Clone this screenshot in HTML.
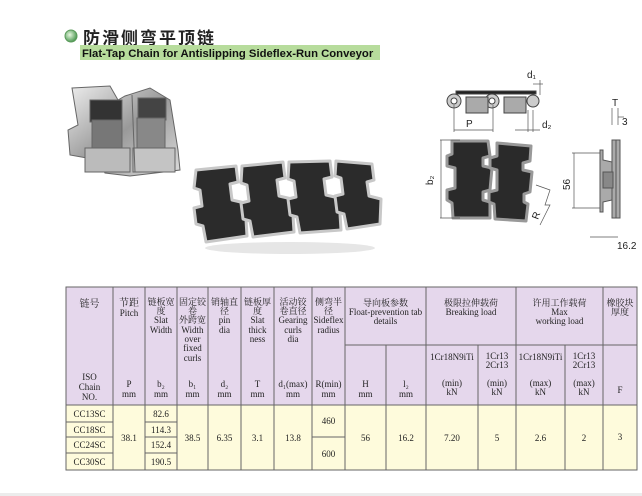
<!DOCTYPE html>
<html><head><meta charset="utf-8">
<style>
html,body{margin:0;padding:0;background:#fff;}
svg{display:block;}
.s{font-family:"Liberation Serif","Noto Serif CJK SC",serif;font-size:9px;fill:#222;text-anchor:middle;}
.b{font-family:"Liberation Serif","Noto Serif CJK SC",serif;font-size:10px;fill:#222;text-anchor:middle;}
.d{font-family:"Liberation Sans",sans-serif;font-size:10px;fill:#222;}
</style></head>
<body>
<svg width="642" height="496" viewBox="0 0 642 496" xmlns="http://www.w3.org/2000/svg">
<defs>
<radialGradient id="g1" cx="40%" cy="40%" r="60%"><stop offset="0" stop-color="#e8f8e0"/><stop offset="1" stop-color="#4f9a55"/></radialGradient>
<linearGradient id="met" x1="0" y1="0" x2="1" y2="1"><stop offset="0" stop-color="#eee"/><stop offset=".5" stop-color="#999"/><stop offset="1" stop-color="#ddd"/></linearGradient>
</defs>
<rect x="0" y="493" width="642" height="3" fill="#ececec"/>
<!-- title -->
<circle cx="71" cy="36" r="6" fill="url(#g1)" stroke="#5a9a5a" stroke-width="1"/>
<text x="83" y="44" font-family="'Noto Sans CJK SC',sans-serif" font-weight="bold" font-size="17" fill="#222" letter-spacing="2">防滑侧弯平顶链</text>
<rect x="80" y="45" width="300" height="15" fill="#b7dc9c"/>
<text x="82" y="57" font-family="'Liberation Sans',sans-serif" font-weight="bold" font-size="11.3" fill="#111">Flat-Tap Chain for Antislipping Sideflex-Run Conveyor</text>

<!-- left metal chain -->
<g stroke="#666" stroke-width="1">
<polygon points="72,88 110,86 118,100 125,96 150,88 170,100 178,150 180,170 130,176 105,173 98,160 70,155 68,130 78,125" fill="url(#met)"/>
<rect x="90" y="100" width="32" height="22" fill="#333"/>
<rect x="138" y="98" width="28" height="22" fill="#444"/>
<rect x="92" y="120" width="30" height="28" fill="#777"/>
<rect x="137" y="118" width="28" height="30" fill="#888"/>
<rect x="85" y="148" width="45" height="24" fill="#bbb"/>
<rect x="133" y="148" width="42" height="24" fill="#c4c4c4"/>
<line x1="132" y1="95" x2="135" y2="172"/>
</g>
<!-- dark chain -->
<ellipse cx="290" cy="248" rx="85" ry="6" fill="#e6e6e6"/>
<g stroke="#c8c8c8" stroke-width="3" fill="#2b2b2b" stroke-linejoin="round">
<polygon points="196,170 236,166 238,182 230,184 232,200 245,203 247,236 206,242 203,226 196,224 194,208 202,206 200,190 194,188"/>
<polygon points="242,166 283,162 285,178 277,180 279,196 292,199 294,232 253,237 250,221 243,219 241,203 249,201 247,185 241,183"/>
<polygon points="289,162 330,161 332,177 324,179 326,195 339,198 341,230 300,233 297,217 290,215 288,199 296,197 294,181 288,179"/>
<polygon points="336,161 372,164 374,180 367,182 369,196 381,199 380,224 347,229 344,214 337,212 335,196 343,194 341,178 335,176"/>
</g>

<!-- top view drawing -->
<g stroke="#444" fill="#bbb" stroke-width="1">
<rect x="456" y="91" width="80" height="3" fill="#222"/>
<circle cx="454" cy="101" r="7" fill="#ccc"/><circle cx="492" cy="101" r="7" fill="#ccc"/><circle cx="533" cy="101" r="6" fill="#ccc"/><circle cx="454" cy="101" r="3" fill="#fff"/><circle cx="492" cy="101" r="3" fill="#fff"/>
<rect x="466" y="97" width="22" height="16" fill="#aaa"/>
<rect x="504" y="97" width="22" height="16" fill="#aaa"/>
</g>
<g stroke="#555" stroke-width=".7" fill="none">
<line x1="454" y1="105" x2="454" y2="132"/><line x1="493" y1="105" x2="493" y2="132"/><line x1="454" y1="130" x2="493" y2="130"/>
<line x1="528" y1="110" x2="528" y2="132"/><line x1="533" y1="110" x2="533" y2="132"/><line x1="515" y1="130" x2="540" y2="130"/>
<line x1="533" y1="84" x2="543" y2="84"/><line x1="540" y1="80" x2="540" y2="95"/>
</g>
<text x="466" y="127" class="d" font-size="11">P</text>
<text x="542" y="128" class="d" font-size="11">d₂</text>
<text x="527" y="78" class="d" font-size="11">d₁</text>
<!-- plan view -->
<g stroke="#999" stroke-width="3" fill="#2a2a2a" stroke-linejoin="round">
<polygon points="452,141 488,141 490,156 483,158 483,166 492,168 490,190 483,192 483,200 490,202 490,218 453,218 452,203 447,200 447,190 455,188 455,168 447,166 447,156 452,154"/>
<polygon points="497,143 531,146 530,161 523,163 523,170 532,172 530,192 524,194 524,202 528,204 526,221 495,219 494,204 489,202 489,192 497,190 497,170 490,168 490,158 497,156"/>
</g>
<g stroke="#555" stroke-width=".7" fill="none">
<line x1="440" y1="140" x2="460" y2="140"/><line x1="440" y1="218" x2="460" y2="218"/><line x1="441" y1="140" x2="441" y2="218"/>
<polyline points="536,185 550,190 545,205 550,205 540,225"/>
<line x1="574" y1="153" x2="574" y2="208"/><line x1="572" y1="153" x2="600" y2="153"/><line x1="572" y1="208" x2="600" y2="208"/>
<line x1="590" y1="237" x2="618" y2="237"/><line x1="612" y1="108" x2="612" y2="125"/><line x1="618" y1="108" x2="618" y2="125"/><line x1="618" y1="117" x2="624" y2="117"/>
</g>
<text x="433" y="185" class="d" font-size="11" transform="rotate(-90 433 185)">b₂</text>
<text x="538" y="220" class="d" font-size="11" transform="rotate(-70 538 220)">R</text>
<text x="570" y="190" class="d" font-size="11" transform="rotate(-90 570 190)">56</text>
<text x="612" y="106" class="d" font-size="11">T</text>
<text x="622" y="125" class="d" font-size="11">3</text>
<text x="617" y="249" class="d" font-size="11">16.2</text>
<!-- side view -->
<g stroke="#555" stroke-width="1" fill="#aaa">
<rect x="616" y="140" width="4" height="78"/>
<polygon points="612,140 616,140 616,218 612,218"/>
<polygon points="600,150 603,150 603,160 612,162 612,200 603,202 603,212 600,212"/>
<rect x="603" y="172" width="10" height="16" fill="#888"/>
</g>

<!-- table -->
<rect x="66" y="287" width="571" height="118" fill="#e5d7ec"/>
<rect x="66" y="405" width="571" height="65" fill="#fefbdc"/>
<g stroke="#666" stroke-width="1" fill="none">
<rect x="66" y="287" width="571" height="183"/>
<line x1="66" y1="405" x2="637" y2="405"/>
<line x1="345" y1="345" x2="637" y2="345"/>
<line x1="113" y1="287" x2="113" y2="470"/><line x1="145" y1="287" x2="145" y2="470"/><line x1="177" y1="287" x2="177" y2="470"/>
<line x1="208" y1="287" x2="208" y2="470"/><line x1="241" y1="287" x2="241" y2="470"/><line x1="274" y1="287" x2="274" y2="470"/>
<line x1="312" y1="287" x2="312" y2="470"/><line x1="345" y1="287" x2="345" y2="470"/><line x1="386" y1="345" x2="386" y2="470"/>
<line x1="426" y1="287" x2="426" y2="470"/><line x1="478" y1="345" x2="478" y2="470"/><line x1="516" y1="287" x2="516" y2="470"/>
<line x1="565" y1="345" x2="565" y2="470"/><line x1="603" y1="287" x2="603" y2="470"/>
<line x1="66" y1="422" x2="113" y2="422"/><line x1="66" y1="437" x2="113" y2="437"/><line x1="66" y1="453" x2="113" y2="453"/>
<line x1="145" y1="422" x2="177" y2="422"/><line x1="145" y1="437" x2="177" y2="437"/><line x1="145" y1="453" x2="177" y2="453"/>
<line x1="312" y1="437" x2="345" y2="437"/>
</g>
<!-- header text -->
<text class="b" x="89.5" y="307">链号</text>
<text class="s" x="89.5" y="380">ISO</text><text class="s" x="89.5" y="390">Chain</text><text class="s" x="89.5" y="400">NO.</text>
<text class="b" x="129" y="306">节距</text><text class="s" x="129" y="316">Pitch</text><text class="s" x="129" y="387">P</text><text class="s" x="129" y="397">mm</text>
<text class="s" x="161" y="305">链板宽</text><text class="s" x="161" y="314">度</text><text class="s" x="161" y="323">Slat</text><text class="s" x="161" y="333">Width</text><text class="s" x="161" y="387">b₂</text><text class="s" x="161" y="397">mm</text>
<text class="s" x="192.5" y="305">固定铰</text><text class="s" x="192.5" y="314">卷</text><text class="s" x="192.5" y="323">外跨宽</text><text class="s" x="192.5" y="333">Width</text><text class="s" x="192.5" y="342">over</text><text class="s" x="192.5" y="351">fixed</text><text class="s" x="192.5" y="361">curls</text><text class="s" x="192.5" y="387">b₁</text><text class="s" x="192.5" y="397">mm</text>
<text class="s" x="224.5" y="305">销轴直</text><text class="s" x="224.5" y="314">径</text><text class="s" x="224.5" y="323">pin</text><text class="s" x="224.5" y="333">dia</text><text class="s" x="224.5" y="387">d₂</text><text class="s" x="224.5" y="397">mm</text>
<text class="s" x="257.5" y="305">链板厚</text><text class="s" x="257.5" y="314">度</text><text class="s" x="257.5" y="323">Slat</text><text class="s" x="257.5" y="333">thick</text><text class="s" x="257.5" y="342">ness</text><text class="s" x="257.5" y="387">T</text><text class="s" x="257.5" y="397">mm</text>
<text class="s" x="293" y="305">活动铰</text><text class="s" x="293" y="314">卷直径</text><text class="s" x="293" y="323">Gearing</text><text class="s" x="293" y="333">curls</text><text class="s" x="293" y="342">dia</text><text class="s" x="293" y="387">d₁(max)</text><text class="s" x="293" y="397">mm</text>
<text class="s" x="328.5" y="305">侧弯半</text><text class="s" x="328.5" y="314">径</text><text class="s" x="328.5" y="323">Sideflex</text><text class="s" x="328.5" y="333">radius</text><text class="s" x="328.5" y="387">R(min)</text><text class="s" x="328.5" y="397">mm</text>
<text class="s" x="385.5" y="306">导向板参数</text><text class="s" x="385.5" y="315">Float-prevention tab</text><text class="s" x="385.5" y="324">details</text>
<text class="s" x="471" y="306">极限拉伸载荷</text><text class="s" x="471" y="315">Breaking load</text>
<text class="s" x="559.5" y="306">许用工作载荷</text><text class="s" x="559.5" y="315">Max</text><text class="s" x="559.5" y="324">working load</text>
<text class="s" x="620" y="306">橡胶块</text><text class="s" x="620" y="315">厚度</text>
<text class="s" x="365.5" y="387">H</text><text class="s" x="365.5" y="397">mm</text>
<text class="s" x="406" y="387">l₂</text><text class="s" x="406" y="397">mm</text>
<text class="s" x="452" y="360">1Cr18N9iTi</text><text class="s" x="452" y="386">(min)</text><text class="s" x="452" y="395">kN</text>
<text class="s" x="497" y="359">1Cr13</text><text class="s" x="497" y="368">2Cr13</text><text class="s" x="497" y="386">(min)</text><text class="s" x="497" y="395">kN</text>
<text class="s" x="540.5" y="360">1Cr18N9iTi</text><text class="s" x="540.5" y="386">(max)</text><text class="s" x="540.5" y="395">kN</text>
<text class="s" x="584" y="359">1Cr13</text><text class="s" x="584" y="368">2Cr13</text><text class="s" x="584" y="386">(max)</text><text class="s" x="584" y="395">kN</text>
<text class="s" x="620" y="393">F</text>
<!-- body -->
<text class="s" x="89.5" y="417">CC13SC</text><text class="s" x="89.5" y="433">CC18SC</text><text class="s" x="89.5" y="448">CC24SC</text><text class="s" x="89.5" y="465">CC30SC</text>
<text class="s" x="161" y="417">82.6</text><text class="s" x="161" y="433">114.3</text><text class="s" x="161" y="448">152.4</text><text class="s" x="161" y="465">190.5</text>
<text class="s" x="129" y="441">38.1</text><text class="s" x="192.5" y="441">38.5</text><text class="s" x="224.5" y="441">6.35</text><text class="s" x="257.5" y="441">3.1</text><text class="s" x="293" y="441">13.8</text>
<text class="s" x="328.5" y="424">460</text><text class="s" x="328.5" y="457">600</text>
<text class="s" x="365.5" y="441">56</text><text class="s" x="406" y="441">16.2</text><text class="s" x="452" y="441">7.20</text><text class="s" x="497" y="441">5</text><text class="s" x="540.5" y="441">2.6</text><text class="s" x="584" y="441">2</text><text class="s" x="620" y="440">3</text>
</svg>
</body></html>
